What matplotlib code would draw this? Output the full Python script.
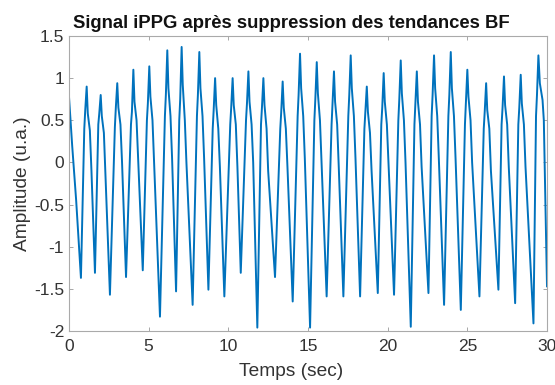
import matplotlib
matplotlib.use("Agg")
import matplotlib.pyplot as plt
import numpy as np

# iPPG signal, in three 10 s chunks
t_0_10 = [0, 0.08, 0.2, 0.45, 0.75,
          0.96, 1.02, 1.11, 1.18, 1.31, 1.41, 1.63,
          1.84, 1.90, 1.99, 2.06, 2.19, 2.29, 2.57,
          2.88, 2.94, 3.03, 3.10, 3.23, 3.33, 3.58,
          3.89, 3.95, 4.04, 4.11, 4.24, 4.34, 4.63,
          4.89, 4.95, 5.04, 5.11, 5.24, 5.34, 5.71,
          6.02, 6.08, 6.17, 6.24, 6.37, 6.47, 6.72,
          6.92, 6.98, 7.07, 7.14, 7.27, 7.37, 7.76,
          8.03, 8.09, 8.18, 8.25, 8.38, 8.48, 8.75,
          9.02, 9.08, 9.17, 9.24, 9.37, 9.47, 9.75]
amp_0_10 = [0.78, 0.55, 0.20, -0.45, -1.37,
            0.40, 0.62, 0.90, 0.58, 0.38, -0.10, -1.31,
            0.45, 0.58, 0.80, 0.55, 0.35, -0.15, -1.57,
            0.42, 0.65, 0.94, 0.65, 0.45, 0.00, -1.36,
            0.45, 0.60, 1.10, 0.72, 0.50, 0.05, -1.28,
            0.50, 0.70, 1.14, 0.78, 0.50, 0.00, -1.83,
            0.55, 0.80, 1.33, 0.88, 0.55, 0.05, -1.53,
            0.50, 0.75, 1.37, 0.92, 0.50, 0.00, -1.69,
            0.55, 0.80, 1.31, 0.88, 0.55, 0.05, -1.51,
            0.40, 0.62, 1.00, 0.68, 0.40, -0.05, -1.59]

t_10_20 = [10.12, 10.18, 10.27, 10.34, 10.47, 10.57, 10.78,
           11.11, 11.17, 11.26, 11.33, 11.46, 11.56, 11.82,
           12.05, 12.11, 12.20, 12.27, 12.40, 12.50, 12.93,
           13.26, 13.32, 13.41, 13.48, 13.61, 13.71, 14.04,
           14.35, 14.41, 14.50, 14.57, 14.70, 14.80, 15.13,
           15.40, 15.46, 15.55, 15.62, 15.75, 15.85, 16.17,
           16.48, 16.54, 16.63, 16.70, 16.83, 16.93, 17.22,
           17.53, 17.59, 17.68, 17.75, 17.88, 17.98, 18.27,
           18.54, 18.60, 18.69, 18.76, 18.89, 18.99, 19.38,
           19.60, 19.66, 19.75, 19.82, 19.95, 20.05, 20.40]
amp_10_20 = [0.45, 0.65, 1.00, 0.68, 0.45, -0.05, -1.31,
             0.50, 0.70, 1.08, 0.72, 0.45, 0.00, -1.96,
             0.45, 0.65, 1.00, 0.68, 0.40, -0.10, -1.36,
             0.40, 0.60, 0.96, 0.65, 0.40, -0.05, -1.65,
             0.55, 0.80, 1.29, 0.88, 0.55, 0.05, -1.96,
             0.50, 0.75, 1.19, 0.82, 0.50, 0.00, -1.59,
             0.45, 0.70, 1.08, 0.72, 0.45, -0.05, -1.59,
             0.55, 0.80, 1.27, 0.88, 0.55, 0.05, -1.59,
             0.40, 0.60, 0.90, 0.60, 0.35, -0.10, -1.55,
             0.45, 0.65, 1.06, 0.72, 0.45, 0.00, -1.57]

t_20_30 = [20.67, 20.73, 20.82, 20.89, 21.02, 21.12, 21.45,
           21.68, 21.74, 21.83, 21.90, 22.03, 22.13, 22.56,
           22.76, 22.82, 22.91, 22.98, 23.11, 23.21, 23.54,
           23.81, 23.87, 23.96, 24.03, 24.16, 24.26, 24.59,
           24.85, 24.91, 25.00, 25.07, 25.20, 25.30, 25.76,
           26.03, 26.09, 26.18, 26.25, 26.38, 26.48, 26.95,
           27.15, 27.21, 27.30, 27.37, 27.50, 27.60, 28.00,
           28.20, 28.26, 28.35, 28.42, 28.55, 28.65, 29.15,
           29.31, 29.37, 29.46, 29.55, 29.72, 29.80, 30.00]
amp_20_30 = [0.50, 0.75, 1.21, 0.82, 0.50, 0.00, -1.95,
             0.45, 0.70, 1.08, 0.72, 0.45, -0.05, -1.55,
             0.55, 0.80, 1.27, 0.88, 0.55, 0.05, -1.69,
             0.55, 0.80, 1.31, 0.88, 0.55, 0.05, -1.75,
             0.45, 0.70, 1.10, 0.78, 0.50, 0.00, -1.59,
             0.40, 0.60, 0.94, 0.62, 0.40, -0.10, -1.51,
             0.45, 0.65, 1.02, 0.68, 0.45, -0.05, -1.67,
             0.45, 0.65, 1.04, 0.70, 0.45, -0.05, -1.91,
             0.55, 0.80, 1.27, 0.94, 0.74, 0.50, -1.47]

x_ticks = [0, 5, 10, 15, 20, 25, 30]
y_ticks = [-2, -1.5, -1, -0.5, 0, 0.5, 1, 1.5]
y_labels = ["-2", "-1.5", "-1", "-0.5", "0", "0.5", "1", "1.5"]

t = np.array(t_0_10 + t_10_20 + t_20_30)
amp = np.array(amp_0_10 + amp_10_20 + amp_20_30)

plt.rcParams['font.family'] = ['Liberation Sans', 'DejaVu Sans']
text_col = '#333333'

fig = plt.figure(figsize=(5.55, 3.85), dpi=100)
ax = fig.add_axes([0.1243, 0.1403, 0.8613, 0.7662])
ax.plot(t, amp, color='#0072BD', linewidth=1.4)

ax.set_xlim(0, 30)
ax.set_ylim(-2, 1.5)
ax.set_xticks(x_ticks)
ax.set_xticklabels([str(v) for v in x_ticks])
ax.set_yticks(y_ticks)
ax.set_yticklabels(y_labels)
ax.tick_params(direction='in', length=3, width=0.6, colors='#999999',
               labelcolor=text_col, labelsize=12.5, top=True, right=True,
               labeltop=False, labelright=False)
ax.tick_params(axis='x', pad=6)
for s in ax.spines.values():
    s.set_color('#aaaaaa')
    s.set_linewidth(0.8)

ax.set_title('Signal iPPG après suppression des tendances BF',
             fontsize=13.3, fontweight='bold', color='#111111', pad=6,
             x=0.466)
ax.set_xlabel('Temps (sec)', fontsize=13.8, color=text_col)
ax.xaxis.set_label_coords(0.464, -0.11)
ax.set_ylabel('Amplitude (u.a.)', fontsize=13.8, color=text_col, labelpad=2)

fig.savefig('out.png', dpi=100)
